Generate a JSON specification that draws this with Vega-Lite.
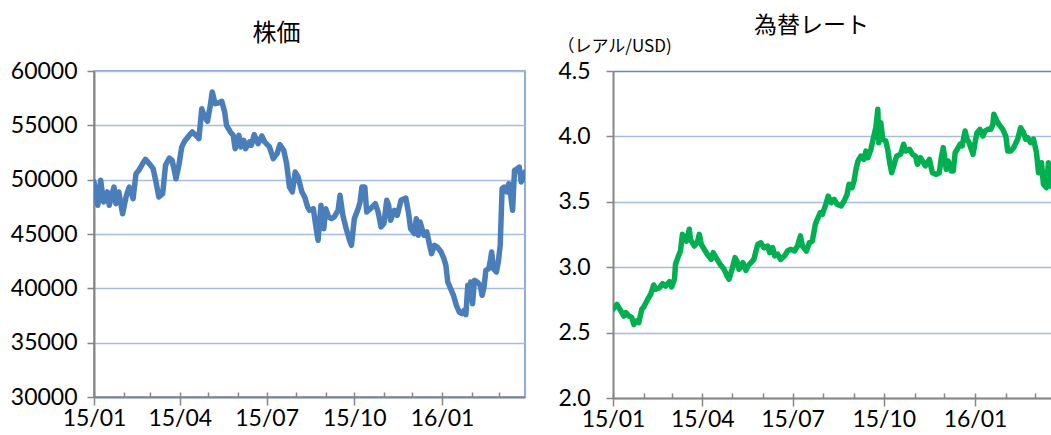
{
  "$schema": "https://vega.github.io/schema/vega-lite/v6.json",
  "padding": {"top": 15, "left": 0, "right": 0, "bottom": 0},
  "background": "white",
  "spacing": 28,
  "config": {"view": {"stroke": null}},
  "datasets": {
    "stock": [
      {"d":"2015-01-01","v":49800},{"d":"2015-01-05","v":47640},{"d":"2015-01-08","v":49940},{"d":"2015-01-11","v":47950},{"d":"2015-01-15","v":48870},{"d":"2015-01-17","v":47640},{"d":"2015-01-22","v":49320},{"d":"2015-01-24","v":47790},{"d":"2015-01-27","v":48870},{"d":"2015-01-31","v":46870},
      {"d":"2015-02-04","v":48560},{"d":"2015-02-07","v":49320},{"d":"2015-02-11","v":48250},{"d":"2015-02-14","v":50550},{"d":"2015-02-17","v":50860},{"d":"2015-02-21","v":51470},{"d":"2015-02-24","v":51870},{"d":"2015-02-28","v":51470},
      {"d":"2015-03-04","v":51010},{"d":"2015-03-07","v":49790},{"d":"2015-03-10","v":48400},{"d":"2015-03-14","v":48710},{"d":"2015-03-17","v":51320},{"d":"2015-03-21","v":51990},{"d":"2015-03-24","v":51780},{"d":"2015-03-28","v":50090},{"d":"2015-03-31","v":51320},
      {"d":"2015-04-03","v":53010},{"d":"2015-04-06","v":53530},{"d":"2015-04-11","v":54080},{"d":"2015-04-14","v":54390},{"d":"2015-04-18","v":54080},{"d":"2015-04-21","v":53770},{"d":"2015-04-24","v":56530},{"d":"2015-04-27","v":55770},{"d":"2015-04-30","v":55370},
      {"d":"2015-05-03","v":56840},{"d":"2015-05-05","v":58070},{"d":"2015-05-08","v":56990},{"d":"2015-05-12","v":57080},{"d":"2015-05-15","v":57210},{"d":"2015-05-18","v":56230},{"d":"2015-05-20","v":55000},{"d":"2015-05-24","v":54390},{"d":"2015-05-27","v":54080},{"d":"2015-05-29","v":52850},
      {"d":"2015-06-02","v":54080},{"d":"2015-06-04","v":53010},{"d":"2015-06-07","v":53620},{"d":"2015-06-09","v":52850},{"d":"2015-06-13","v":53470},{"d":"2015-06-15","v":53160},{"d":"2015-06-18","v":54140},{"d":"2015-06-22","v":53310},{"d":"2015-06-26","v":54020},{"d":"2015-06-29","v":53470},
      {"d":"2015-07-04","v":53010},{"d":"2015-07-08","v":51930},{"d":"2015-07-12","v":52390},{"d":"2015-07-15","v":53220},{"d":"2015-07-19","v":52700},{"d":"2015-07-22","v":51470},{"d":"2015-07-25","v":49320},{"d":"2015-07-28","v":48870},{"d":"2015-07-31","v":50700},
      {"d":"2015-08-03","v":50250},{"d":"2015-08-07","v":48870},{"d":"2015-08-10","v":48400},{"d":"2015-08-13","v":47480},{"d":"2015-08-15","v":47180},{"d":"2015-08-19","v":47330},{"d":"2015-08-22","v":45490},{"d":"2015-08-24","v":44420},{"d":"2015-08-27","v":47640},{"d":"2015-08-30","v":45490},
      {"d":"2015-09-01","v":47330},{"d":"2015-09-04","v":46570},{"d":"2015-09-07","v":46410},{"d":"2015-09-10","v":46570},{"d":"2015-09-14","v":47180},{"d":"2015-09-16","v":48560},{"d":"2015-09-19","v":46720},{"d":"2015-09-22","v":45650},{"d":"2015-09-26","v":44420},{"d":"2015-09-28","v":43960},
      {"d":"2015-10-01","v":46410},{"d":"2015-10-05","v":47330},{"d":"2015-10-07","v":47950},{"d":"2015-10-09","v":49320},{"d":"2015-10-12","v":49320},{"d":"2015-10-14","v":47020},{"d":"2015-10-18","v":47330},{"d":"2015-10-23","v":47790},{"d":"2015-10-26","v":47020},{"d":"2015-10-29","v":45650},
      {"d":"2015-11-01","v":45950},{"d":"2015-11-04","v":48100},{"d":"2015-11-06","v":47640},{"d":"2015-11-08","v":46260},{"d":"2015-11-12","v":47180},{"d":"2015-11-15","v":46720},{"d":"2015-11-19","v":48100},{"d":"2015-11-24","v":48310},{"d":"2015-11-27","v":46870},{"d":"2015-11-29","v":45490},
      {"d":"2015-12-03","v":45030},{"d":"2015-12-05","v":46410},{"d":"2015-12-07","v":44880},{"d":"2015-12-09","v":46100},{"d":"2015-12-13","v":44880},{"d":"2015-12-16","v":45190},{"d":"2015-12-19","v":43960},{"d":"2015-12-21","v":43190},{"d":"2015-12-24","v":43960},{"d":"2015-12-27","v":43800},{"d":"2015-12-31","v":43340},
      {"d":"2016-01-03","v":42730},{"d":"2016-01-05","v":42120},{"d":"2016-01-07","v":40580},{"d":"2016-01-10","v":39970},{"d":"2016-01-13","v":39360},{"d":"2016-01-16","v":38440},{"d":"2016-01-19","v":37820},{"d":"2016-01-22","v":37670},{"d":"2016-01-24","v":37980},{"d":"2016-01-26","v":37580},{"d":"2016-01-28","v":40280},{"d":"2016-01-29","v":39050},{"d":"2016-01-31","v":40580},
      {"d":"2016-02-02","v":38590},{"d":"2016-02-04","v":40740},{"d":"2016-02-07","v":40580},{"d":"2016-02-10","v":40280},{"d":"2016-02-12","v":39360},{"d":"2016-02-14","v":40120},{"d":"2016-02-16","v":41660},{"d":"2016-02-19","v":41810},{"d":"2016-02-21","v":42730},{"d":"2016-02-22","v":43340},{"d":"2016-02-24","v":41810},{"d":"2016-02-27","v":41500},{"d":"2016-02-29","v":42420},
      {"d":"2016-03-02","v":43960},{"d":"2016-03-04","v":49170},{"d":"2016-03-06","v":49320},{"d":"2016-03-09","v":48870},{"d":"2016-03-11","v":49630},{"d":"2016-03-13","v":48560},{"d":"2016-03-15","v":47180},{"d":"2016-03-17","v":50860},{"d":"2016-03-20","v":51010},{"d":"2016-03-22","v":51160},{"d":"2016-03-24","v":49790},{"d":"2016-03-26","v":50090},{"d":"2016-03-28","v":50700}
    ],
    "fx": [
      {"d":"2015-01-01","v":2.678},{"d":"2015-01-05","v":2.716},{"d":"2015-01-08","v":2.678},{"d":"2015-01-12","v":2.627},{"d":"2015-01-14","v":2.652},{"d":"2015-01-17","v":2.627},{"d":"2015-01-20","v":2.614},{"d":"2015-01-22","v":2.563},{"d":"2015-01-25","v":2.589},{"d":"2015-01-27","v":2.576},{"d":"2015-01-30","v":2.678},
      {"d":"2015-02-01","v":2.696},{"d":"2015-02-05","v":2.755},{"d":"2015-02-08","v":2.793},{"d":"2015-02-11","v":2.864},{"d":"2015-02-13","v":2.831},{"d":"2015-02-17","v":2.843},{"d":"2015-02-20","v":2.874},{"d":"2015-02-23","v":2.856},{"d":"2015-02-27","v":2.889},
      {"d":"2015-03-01","v":2.849},{"d":"2015-03-04","v":2.908},{"d":"2015-03-05","v":3.022},{"d":"2015-03-08","v":3.086},{"d":"2015-03-10","v":3.124},{"d":"2015-03-12","v":3.251},{"d":"2015-03-14","v":3.226},{"d":"2015-03-16","v":3.200},{"d":"2015-03-19","v":3.290},{"d":"2015-03-20","v":3.213},{"d":"2015-03-24","v":3.162},{"d":"2015-03-27","v":3.187},{"d":"2015-03-29","v":3.251},{"d":"2015-03-31","v":3.175},
      {"d":"2015-04-03","v":3.137},{"d":"2015-04-06","v":3.099},{"d":"2015-04-10","v":3.060},{"d":"2015-04-12","v":3.111},{"d":"2015-04-16","v":3.060},{"d":"2015-04-19","v":3.022},{"d":"2015-04-23","v":2.984},{"d":"2015-04-26","v":2.933},{"d":"2015-04-28","v":2.908},
      {"d":"2015-05-01","v":2.984},{"d":"2015-05-04","v":3.073},{"d":"2015-05-06","v":3.047},{"d":"2015-05-08","v":2.984},{"d":"2015-05-12","v":3.034},{"d":"2015-05-15","v":2.976},{"d":"2015-05-17","v":3.009},{"d":"2015-05-20","v":3.034},{"d":"2015-05-23","v":3.060},{"d":"2015-05-27","v":3.175},{"d":"2015-05-30","v":3.187},
      {"d":"2015-06-02","v":3.149},{"d":"2015-06-06","v":3.162},{"d":"2015-06-08","v":3.111},{"d":"2015-06-11","v":3.149},{"d":"2015-06-13","v":3.086},{"d":"2015-06-16","v":3.099},{"d":"2015-06-19","v":3.060},{"d":"2015-06-23","v":3.086},{"d":"2015-06-26","v":3.124},{"d":"2015-06-29","v":3.137},
      {"d":"2015-07-03","v":3.124},{"d":"2015-07-06","v":3.162},{"d":"2015-07-09","v":3.239},{"d":"2015-07-11","v":3.162},{"d":"2015-07-15","v":3.124},{"d":"2015-07-18","v":3.187},{"d":"2015-07-21","v":3.200},{"d":"2015-07-24","v":3.328},{"d":"2015-07-26","v":3.366},{"d":"2015-07-29","v":3.417},{"d":"2015-07-31","v":3.404},
      {"d":"2015-08-04","v":3.490},{"d":"2015-08-06","v":3.544},{"d":"2015-08-09","v":3.493},{"d":"2015-08-12","v":3.519},{"d":"2015-08-15","v":3.481},{"d":"2015-08-19","v":3.468},{"d":"2015-08-22","v":3.506},{"d":"2015-08-25","v":3.557},{"d":"2015-08-27","v":3.634},{"d":"2015-08-30","v":3.608},
      {"d":"2015-09-01","v":3.659},{"d":"2015-09-03","v":3.748},{"d":"2015-09-05","v":3.812},{"d":"2015-09-08","v":3.850},{"d":"2015-09-11","v":3.825},{"d":"2015-09-13","v":3.888},{"d":"2015-09-15","v":3.837},{"d":"2015-09-18","v":3.901},{"d":"2015-09-21","v":4.003},{"d":"2015-09-23","v":4.066},{"d":"2015-09-25","v":4.207},{"d":"2015-09-26","v":3.952},{"d":"2015-09-28","v":4.105},{"d":"2015-09-30","v":3.978},
      {"d":"2015-10-03","v":3.965},{"d":"2015-10-05","v":3.901},{"d":"2015-10-07","v":3.799},{"d":"2015-10-09","v":3.722},{"d":"2015-10-11","v":3.774},{"d":"2015-10-14","v":3.850},{"d":"2015-10-18","v":3.863},{"d":"2015-10-21","v":3.940},{"d":"2015-10-23","v":3.888},{"d":"2015-10-27","v":3.901},{"d":"2015-10-30","v":3.863},
      {"d":"2015-11-02","v":3.850},{"d":"2015-11-04","v":3.787},{"d":"2015-11-07","v":3.837},{"d":"2015-11-09","v":3.812},{"d":"2015-11-12","v":3.774},{"d":"2015-11-16","v":3.825},{"d":"2015-11-19","v":3.722},{"d":"2015-11-23","v":3.710},{"d":"2015-11-26","v":3.722},{"d":"2015-11-28","v":3.837},{"d":"2015-11-30","v":3.914},
      {"d":"2015-12-03","v":3.748},{"d":"2015-12-05","v":3.812},{"d":"2015-12-08","v":3.735},{"d":"2015-12-10","v":3.735},{"d":"2015-12-12","v":3.875},{"d":"2015-12-14","v":3.901},{"d":"2015-12-17","v":3.940},{"d":"2015-12-19","v":3.927},{"d":"2015-12-22","v":4.041},{"d":"2015-12-24","v":3.978},{"d":"2015-12-26","v":3.952},{"d":"2015-12-30","v":3.863},
      {"d":"2016-01-01","v":3.952},{"d":"2016-01-03","v":4.028},{"d":"2016-01-06","v":4.054},{"d":"2016-01-09","v":4.003},{"d":"2016-01-11","v":4.041},{"d":"2016-01-14","v":4.054},{"d":"2016-01-17","v":4.054},{"d":"2016-01-19","v":4.093},{"d":"2016-01-20","v":4.169},{"d":"2016-01-23","v":4.118},{"d":"2016-01-25","v":4.093},{"d":"2016-01-29","v":4.054},
      {"d":"2016-02-01","v":4.003},{"d":"2016-02-03","v":3.888},{"d":"2016-02-06","v":3.888},{"d":"2016-02-09","v":3.914},{"d":"2016-02-13","v":3.978},{"d":"2016-02-16","v":4.066},{"d":"2016-02-19","v":4.028},{"d":"2016-02-21","v":3.978},{"d":"2016-02-23","v":3.990},{"d":"2016-02-26","v":3.952},{"d":"2016-02-29","v":3.978},
      {"d":"2016-03-03","v":3.875},{"d":"2016-03-05","v":3.722},{"d":"2016-03-08","v":3.799},{"d":"2016-03-10","v":3.634},{"d":"2016-03-13","v":3.608},{"d":"2016-03-15","v":3.799},{"d":"2016-03-17","v":3.621},{"d":"2016-03-19","v":3.621},{"d":"2016-03-28","v":3.600}
    ]
  },
  "hconcat": [
    {
      "width": 431,
      "height": 326,
      "view": {"stroke": "#6D93C9", "strokeWidth": 1.5},
      "title": {"text": "株価", "frame": "group", "anchor": "middle", "dx": -33, "offset": 14, "fontSize": 24, "font": "Noto Sans CJK JP", "fontWeight": "normal", "color": "#000000"},
      "data": {"name": "stock"},
      "layer": [
        {
          "mark": {"type": "line", "color": "#4A7EBB", "strokeWidth": 5.5, "clip": true, "strokeJoin": "round", "strokeCap": "round"},
          "encoding": {
            "x": {"field": "d", "type": "temporal",
              "scale": {"type": "utc", "domain": [{"year": 2015, "month": 1, "date": 1, "utc": true}, {"year": 2016, "month": 3, "date": 28, "utc": true}]},
              "axis": {"orient": "bottom", "title": null, "grid": false, "labelExpr": "utcFormat(datum.value, '%y/%m')",
                "values": [{"year": 2015, "month": 1, "date": 1, "utc": true}, {"year": 2015, "month": 4, "date": 1, "utc": true}, {"year": 2015, "month": 7, "date": 1, "utc": true}, {"year": 2015, "month": 10, "date": 1, "utc": true}, {"year": 2016, "month": 1, "date": 1, "utc": true}],
                "tickSize": 8, "tickColor": "#868686", "tickWidth": 1.5, "domainColor": "#868686", "domainWidth": 2,
                "labelFont": "Lato", "labelFontSize": 23, "labelColor": "#000000", "labelPadding": 2, "labelFlush": false, "labelOverlap": false}},
            "y": {"field": "v", "type": "quantitative",
              "scale": {"domain": [30000, 60000], "nice": false, "zero": false},
              "axis": {"title": null, "values": [30000, 35000, 40000, 45000, 50000, 55000, 60000], "format": "d",
                "tickSize": 7, "tickColor": "#868686", "tickWidth": 1.5, "domainColor": "#868686", "domainWidth": 2,
                "labelFont": "Lato", "labelFontSize": 23, "labelColor": "#000000", "labelPadding": 10,
                "gridColor": "#A6BDDF", "gridWidth": 1.5, "minExtent": 93, "maxExtent": 93}}
          }
        },
        {
          "mark": {"type": "point", "opacity": 0},
          "encoding": {
            "x": {"field": "d", "type": "temporal",
              "axis": {"orient": "bottom", "title": null, "grid": false, "labels": false, "domain": false,
                "values": [{"year": 2015, "month": 1, "date": 1, "utc": true}, {"year": 2015, "month": 2, "date": 1, "utc": true}, {"year": 2015, "month": 3, "date": 1, "utc": true}, {"year": 2015, "month": 4, "date": 1, "utc": true}, {"year": 2015, "month": 5, "date": 1, "utc": true}, {"year": 2015, "month": 6, "date": 1, "utc": true}, {"year": 2015, "month": 7, "date": 1, "utc": true}, {"year": 2015, "month": 8, "date": 1, "utc": true}, {"year": 2015, "month": 9, "date": 1, "utc": true}, {"year": 2015, "month": 10, "date": 1, "utc": true}, {"year": 2015, "month": 11, "date": 1, "utc": true}, {"year": 2015, "month": 12, "date": 1, "utc": true}, {"year": 2016, "month": 1, "date": 1, "utc": true}, {"year": 2016, "month": 2, "date": 1, "utc": true}, {"year": 2016, "month": 3, "date": 1, "utc": true}],
                "tickSize": -5, "tickColor": "#868686", "tickWidth": 1.5}},
            "y": {"field": "v", "type": "quantitative"}
          }
        }
      ],
      "resolve": {"axis": {"x": "independent"}}
    },
    {
      "width": 439,
      "height": 327,
      "title": {"text": "為替レート", "frame": "group", "anchor": "middle", "dx": -21, "offset": -1, "fontSize": 23, "font": "Noto Sans CJK JP", "fontWeight": "normal", "color": "#000000"},
      "data": {"name": "fx"},
      "layer": [
        {
          "mark": {"type": "line", "color": "#00B050", "strokeWidth": 5.5, "clip": true, "strokeJoin": "round", "strokeCap": "round"},
          "encoding": {
            "x": {"field": "d", "type": "temporal",
              "scale": {"type": "utc", "domain": [{"year": 2015, "month": 1, "date": 1, "utc": true}, {"year": 2016, "month": 3, "date": 18, "hours": 15, "utc": true}]},
              "axis": {"orient": "bottom", "title": null, "grid": false, "labelExpr": "utcFormat(datum.value, '%y/%m')",
                "values": [{"year": 2015, "month": 1, "date": 1, "utc": true}, {"year": 2015, "month": 4, "date": 1, "utc": true}, {"year": 2015, "month": 7, "date": 1, "utc": true}, {"year": 2015, "month": 10, "date": 1, "utc": true}, {"year": 2016, "month": 1, "date": 1, "utc": true}],
                "tickSize": 8, "tickColor": "#868686", "tickWidth": 1.5, "domainColor": "#868686", "domainWidth": 2,
                "labelFont": "Lato", "labelFontSize": 23, "labelColor": "#000000", "labelPadding": 2, "labelFlush": false, "labelOverlap": false}},
            "y": {"field": "v", "type": "quantitative",
              "scale": {"domain": [2, 4.5], "nice": false, "zero": false},
              "axis": {"title": "（レアル/USD)", "titleAngle": 0, "titleX": -56, "titleY": -25, "titleAlign": "left", "titleBaseline": "middle",
                "titleFont": "Noto Sans CJK JP", "titleFontSize": 17, "titleFontWeight": "normal", "titleColor": "#000000",
                "values": [2, 2.5, 3, 3.5, 4, 4.5], "format": ".1f",
                "tickSize": 7, "tickColor": "#868686", "tickWidth": 1.5, "domainColor": "#868686", "domainWidth": 2,
                "labelFont": "Lato", "labelFontSize": 23, "labelColor": "#000000", "labelPadding": 16,
                "gridColor": {"condition": {"test": "datum.value === 4.5", "value": "#5E88C4"}, "value": "#A6BDDF"},
                "gridWidth": 1.5, "minExtent": 55, "maxExtent": 55}}
          }
        },
        {
          "mark": {"type": "point", "opacity": 0},
          "encoding": {
            "x": {"field": "d", "type": "temporal",
              "axis": {"orient": "bottom", "title": null, "grid": false, "labels": false, "domain": false,
                "values": [{"year": 2015, "month": 1, "date": 1, "utc": true}, {"year": 2015, "month": 2, "date": 1, "utc": true}, {"year": 2015, "month": 3, "date": 1, "utc": true}, {"year": 2015, "month": 4, "date": 1, "utc": true}, {"year": 2015, "month": 5, "date": 1, "utc": true}, {"year": 2015, "month": 6, "date": 1, "utc": true}, {"year": 2015, "month": 7, "date": 1, "utc": true}, {"year": 2015, "month": 8, "date": 1, "utc": true}, {"year": 2015, "month": 9, "date": 1, "utc": true}, {"year": 2015, "month": 10, "date": 1, "utc": true}, {"year": 2015, "month": 11, "date": 1, "utc": true}, {"year": 2015, "month": 12, "date": 1, "utc": true}, {"year": 2016, "month": 1, "date": 1, "utc": true}, {"year": 2016, "month": 2, "date": 1, "utc": true}, {"year": 2016, "month": 3, "date": 1, "utc": true}],
                "tickSize": -5, "tickColor": "#868686", "tickWidth": 1.5}},
            "y": {"field": "v", "type": "quantitative"}
          }
        }
      ],
      "resolve": {"axis": {"x": "independent"}}
    }
  ]
}
